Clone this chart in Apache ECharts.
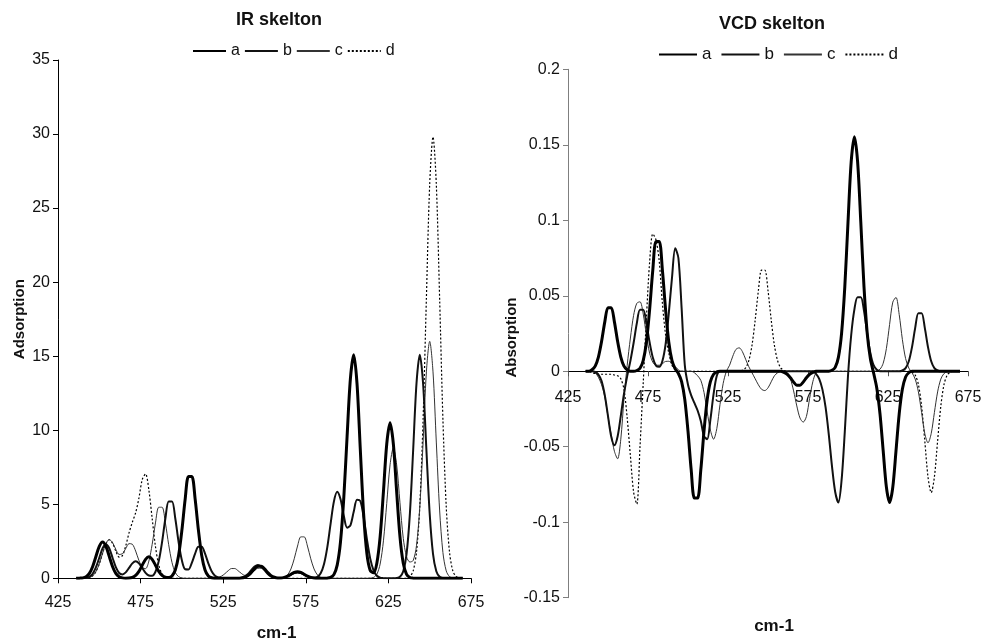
<!DOCTYPE html>
<html>
<head>
<meta charset="utf-8">
<script src="https://cdn.jsdelivr.net/npm/echarts/dist/echarts.min.js"></script>
<style>
html,body{margin:0;padding:0;background:#fff;}
#chart{width:985px;height:643px;}
</style>
</head>
<body>
<div id="chart"></div>
<script>
// sample positions (cm-1) shared by all curves
const wavenumbers = [
  436,438,440,442,444,446,448,450,452,454,
  456,458,460,462,464,466,468,470,472,474,
  476,478,480,482,484,486,488,490,492,494,
  496,498,500,502,504,506,508,510,512,514,
  516,518,520,522,524,526,528,530,532,534,
  536,538,540,542,544,546,548,550,552,554,
  556,558,560,562,564,566,568,570,572,574,
  576,578,580,582,584,586,588,590,592,594,
  596,598,600,602,604,606,608,610,612,614,
  616,618,620,622,624,626,628,630,632,634,
  636,638,640,642,644,646,648,650,652,654,
  656,658,660,662,664,666,668,670
];

// ---- IR skelton (Adsorption) ----
const irA = [
  0,.01,.03,.11,.33,.80,1.49,2.16,2.45,2.16,
  1.49,.80,.33,.11,.03,.01,.016,.064,.20,.47,
  .88,1.28,1.45,1.28,.88,.47,.20,.07,.05,.16,
  .565,1.54,3.25,5.36,6.88,6.88,5.36,3.25,1.54,.565,
  .16,.036,.006,0,0,0,0,0,0,0,
  .02,.07,.18,.39,.64,.82,.82,.64,.39,.18,
  .07,.025,.02,.06,.15,.27,.40,.45,.40,.27,
  .15,.06,.02,0,0,0,.01,.06,.25,.89,
  2.46,5.44,9.59,13.48,15.1,13.15,8.68,4.35,1.65,.53,
  .37,1.01,2.81,5.85,9.07,10.5,9.07,5.85,2.81,1.01,
  .27,.055,.01,0,0,0,0,0,0,0,
  0,0,0,0,0,0,0,0
];
const irB = [
  0,0,.01,.03,.10,.31,.75,1.39,2.03,2.30,
  2.03,1.39,.76,.36,.26,.40,.70,1.01,1.15,1.01,
  .70,.37,.19,.17,.44,1.16,2.45,4.04,5.18,5.18,
  4.04,2.45,1.21,.61,.60,1.04,1.66,2.13,2.13,1.66,
  1.01,.48,.175,.05,.011,0,0,0,0,.01,
  .04,.12,.29,.55,.79,.90,.79,.55,.29,.12,
  .04,.01,.02,.05,.13,.24,.35,.40,.35,.24,
  .13,.05,.04,.10,.34,.95,2.09,3.68,5.18,5.84,
  5.35,4.22,3.42,3.58,4.49,5.30,5.22,4.15,2.63,1.33,
  .54,.17,.04,.01,0,0,0,.02,.10,.47,
  1.65,4.35,8.68,13.15,15.1,13.15,8.68,4.35,1.65,.47,
  .10,.02,0,0,0,0,0,0
];
const irC = [
  0,0,0,.013,.05,.17,.46,.98,1.69,2.34,
  2.62,2.42,1.95,1.61,1.66,2.01,2.34,2.30,1.84,1.20,
  .74,.65,1.16,2.29,3.74,4.8,4.8,3.74,2.27,1.07,
  .39,.11,.025,0,0,0,0,0,0,0,
  0,0,.015,.054,.147,.31,.51,.66,.66,.51,
  .33,.20,.20,.34,.53,.68,.68,.53,.32,.15,
  .056,.016,.015,.066,.23,.63,1.32,2.18,2.8,2.8,
  2.18,1.32,.63,.23,.066,.015,0,0,0,0,
  0,0,0,0,0,0,0,0,0,.01,
  .06,.27,.96,2.53,5.06,7.66,8.8,7.66,5.1,2.7,
  1.45,1.1,1.2,2.2,4.8,9.2,13.94,16.0,13.94,9.2,
  4.61,1.74,.50,.11,.02,0,0,0
];
const irD = [
  0,0,0,.01,.05,.17,.46,.98,1.69,2.33,
  2.6,2.37,1.84,1.43,1.53,2.19,3.07,3.79,4.43,5.43,
  6.67,7.05,5.97,4.04,2.14,.89,.29,.07,.01,0,
  0,0,0,0,0,0,0,0,0,0,
  0,0,0,0,0,0,0,0,0,0,
  .02,.06,.17,.37,.60,.77,.77,.60,.37,.17,
  .06,.02,0,0,0,0,0,0,0,0,
  0,0,0,0,0,0,0,0,0,0,
  0,0,0,0,0,0,0,0,0,0,
  0,0,0,0,0,0,0,0,0,0,
  .02,.12,.50,1.76,4.86,10.73,18.92,26.61,29.8,26.61,
  18.92,10.73,4.86,1.76,.50,.12,.02,0
];

// ---- VCD skelton (Absorption) ----
const vcdA = [
  0,0,.001,.0034,.0094,.0198,.0327,.042,.042,.0327,
  .0198,.0094,.0034,.001,0,0,.0005,.002,.0071,.0192,
  .0407,.067,.086,.086,.067,.0407,.0192,.007,.0016,-.0015,
  -.0069,-.0188,-.0397,-.0654,-.084,-.084,-.0654,-.0397,-.0188,-.0069,
  -.002,-.0004,0,0,0,0,0,0,0,0,
  0,0,0,0,0,0,0,0,0,0,
  0,0,-.0008,-.002,-.0043,-.0072,-.0092,-.0092,-.0072,-.0043,
  -.002,-.0008,0,0,0,0,0,.0006,.0026,.0092,
  .0253,.0559,.0987,.1388,.1554,.1388,.0987,.0559,.0253,.0082,
  -.0012,-.0112,-.0282,-.0528,-.0768,-.087,-.0768,-.0528,-.0282,-.0118,
  -.0038,-.001,0,0,0,0,0,0,0,0,
  0,0,0,0,0,0,0,0
];
const vcdB = [
  0,0,0,-.0005,-.0022,-.0065,-.0159,-.0297,-.0432,-.049,
  -.0432,-.0295,-.0149,-.0032,.0069,.0187,.0317,.0407,.0407,.0317,
  .0192,.0091,.0037,.0029,.0068,.018,.0385,.062,.0815,.075,
  .042,.004,-.009,-.016,-.021,-.026,-.033,-.043,-.045,-.032,
  -.015,-.003,0,0,0,0,0,0,0,0,
  0,0,0,0,0,0,0,0,0,0,
  0,0,0,0,0,0,0,0,0,0,
  0,0,-.0017,-.005,-.012,-.024,-.042,-.063,-.080,-.087,
  -.072,-.040,-.003,.024,.041,.049,.049,.040,.025,.012,
  .004,.001,0,0,0,0,0,0,0,.0005,
  .0021,.0066,.016,.0287,.0384,.0384,.0287,.016,.0066,.0021,
  .0005,0,0,0,0,0,0,0
];
const vcdC = [
  0,0,0,-.001,-.004,-.009,-.017,-.030,-.042,-.053,
  -.058,-.045,-.018,.004,.022,.037,.045,.046,.038,.024,
  .012,.006,.004,.004,.005,.0065,.0066,.005,.003,.001,
  0,0,0,0,-.001,-.003,-.006,-.014,-.027,-.039,
  -.045,-.038,-.022,-.008,0,.004,.010,.0145,.0155,.013,
  .008,.003,-.001,-.005,-.009,-.012,-.0128,-.011,-.007,-.003,
  -.001,0,0,-.001,-.005,-.013,-.023,-.031,-.0337,-.030,
  -.018,-.007,-.001,0,0,0,0,0,0,0,
  0,0,0,0,0,0,0,0,0,0,
  0,.0003,.0013,.0053,.0151,.031,.0458,.0489,.0376,.0209,
  .0084,.0021,-.001,-.0052,-.0137,-.0273,-.0413,-.0474,-.0413,-.0273,
  -.0137,-.0052,-.0015,-.0003,0,0,0,0
];
const vcdD = [
  0,0,-.001,-.0015,-.002,-.002,-.002,-.002,-.002,-.0025,
  -.003,-.005,-.012,-.031,-.056,-.080,-.088,-.050,-.008,.035,
  .072,.091,.087,.073,.045,.024,.012,.004,.001,0,
  0,0,0,0,0,0,0,0,0,0,
  0,0,0,0,0,0,0,0,0,.0006,
  .0022,.007,.0172,.034,.0535,.067,.067,.0535,.034,.0172,
  .007,.0022,.0006,0,0,0,0,0,0,0,
  0,0,0,0,0,0,0,0,0,0,
  0,0,0,0,0,0,0,0,0,0,
  0,0,0,0,0,0,0,0,0,0,
  0,0,-.0005,-.0025,-.0088,-.0232,-.0462,-.070,-.0804,-.070,
  -.0462,-.0232,-.0088,-.0025,-.0005,0,0,0
];

const seriesNames = ['a','b','c','d'];
const irTitle = 'IR skelton';
const vcdTitle = 'VCD skelton';

const narrow = "'Liberation Sans Narrow','Arial Narrow','Liberation Sans',Arial,sans-serif";
const sans = "'Liberation Sans',Arial,Helvetica,sans-serif";

[irA,irB,irC,irD,vcdA,vcdB,vcdC,vcdD].forEach((arr,i)=>{
  if(arr.length!==wavenumbers.length) console.error('length mismatch', i, arr.length);
});

const lineStyles = {
  a:{width:3, color:'#000', type:'solid'},
  b:{width:2, color:'#111', type:'solid'},
  c:{width:1, color:'#333', type:'solid'},
  d:{width:1.2, color:'#000', type:[2,2]}
};

function pairs(ys){ return wavenumbers.map((x,i)=>[x, ys[i]]); }

function mkSeries(name, ys, idx){
  return {
    name, type:'line', xAxisIndex:idx, yAxisIndex:idx,
    data:pairs(ys), symbol:'none', showSymbol:false, smooth:0.3,
    lineStyle:lineStyles[name], itemStyle:{color:lineStyles[name].color},
    z: name==='a'?5:(name==='b'?4:(name==='c'?3:2)),
    animation:false, silent:true
  };
}

const irData = {a:irA,b:irB,c:irC,d:irD};
const vcdData = {a:vcdA,b:vcdB,c:vcdC,d:vcdD};

const series = [];
['d','c','b','a'].forEach(n=>series.push(mkSeries(n, irData[n], 0)));
['d','c','b','a'].forEach(n=>series.push(mkSeries(n, vcdData[n], 1)));

const tickLabel = {fontFamily:narrow, fontSize:16, color:'#111'};
const nameStyle = {fontFamily:sans, fontWeight:'bold', color:'#111'};
const hiddenSymbol = {color:'rgba(0,0,0,0)', borderWidth:0, opacity:0};

// right panel: zero line position inside its grid (grid height 528.4, range -0.15..0.2)
const vcdZeroOffset = -528.4 * 0.15 / 0.35;

const option = {
  backgroundColor:'#fff',
  animation:false,
  title:[
    {text:irTitle, left:236, top:11, padding:0,
     textStyle:{fontFamily:sans, fontWeight:'bold', fontSize:18, color:'#111'}},
    {text:vcdTitle, left:719, top:15, padding:0,
     textStyle:{fontFamily:sans, fontWeight:'bold', fontSize:18, color:'#111'}}
  ],
  legend:[
    {data:seriesNames, left:192, top:43, padding:0, itemWidth:33, itemHeight:14, itemGap:4,
     itemStyle:hiddenSymbol,
     textStyle:{fontFamily:narrow, fontSize:16, color:'#111'}, selectedMode:false},
    {data:seriesNames, left:658, top:46, padding:0, itemWidth:38, itemHeight:14, itemGap:9,
     itemStyle:hiddenSymbol,
     textStyle:{fontFamily:narrow, fontSize:17, color:'#111'}, selectedMode:false}
  ],
  grid:[
    {left:58, top:60, width:413, height:518.3, outerBoundsMode:'none', containLabel:false},
    {left:568, top:69.3, width:400, height:528.4, outerBoundsMode:'none', containLabel:false}
  ],
  xAxis:[
    {type:'value', gridIndex:0, min:425, max:675, interval:50,
     axisLine:{show:true, lineStyle:{color:'#000', width:1}},
     axisTick:{show:true, length:5, lineStyle:{color:'#000'}},
     axisLabel:Object.assign({margin:16}, tickLabel),
     splitLine:{show:false},
     name:'cm-1', nameLocation:'middle', nameGap:47,
     nameTextStyle:Object.assign({fontSize:17, padding:[0,0,0,24]}, nameStyle)},
    {type:'value', gridIndex:1, min:425, max:675, interval:50,
     position:'bottom', offset:vcdZeroOffset,
     axisLine:{show:true, onZero:false, lineStyle:{color:'#000', width:1}},
     axisTick:{show:true, length:5, lineStyle:{color:'#555'}},
     axisLabel:Object.assign({margin:18}, tickLabel),
     splitLine:{show:false},
     name:'cm-1', nameLocation:'middle', nameGap:247,
     nameTextStyle:Object.assign({fontSize:17, padding:[0,0,0,12]}, nameStyle)}
  ],
  yAxis:[
    {type:'value', gridIndex:0, min:0, max:35, interval:5,
     axisLine:{show:true, lineStyle:{color:'#000', width:1}},
     axisTick:{show:true, length:5, lineStyle:{color:'#000'}},
     axisLabel:Object.assign({margin:8}, tickLabel),
     splitLine:{show:false},
     name:'Adsorption', nameLocation:'middle', nameGap:31,
     nameTextStyle:Object.assign({fontSize:15}, nameStyle)},
    {type:'value', gridIndex:1, min:-0.15, max:0.2, interval:0.05,
     axisLine:{show:true, onZero:false, lineStyle:{color:'#7f7f7f', width:1}},
     axisTick:{show:true, length:5, lineStyle:{color:'#7f7f7f'}},
     axisLabel:Object.assign({margin:8, formatter:v=>String(Math.round(v*100)/100)}, tickLabel),
     splitLine:{show:false},
     name:'Absorption', nameLocation:'middle', nameGap:29,
     nameTextStyle:Object.assign({fontSize:15, padding:[0,8,0,0]}, nameStyle)}
  ],
  series
};

const chart = echarts.init(document.getElementById('chart'), null, {renderer:'canvas'});
chart.setOption(option);
</script>
</body>
</html>
